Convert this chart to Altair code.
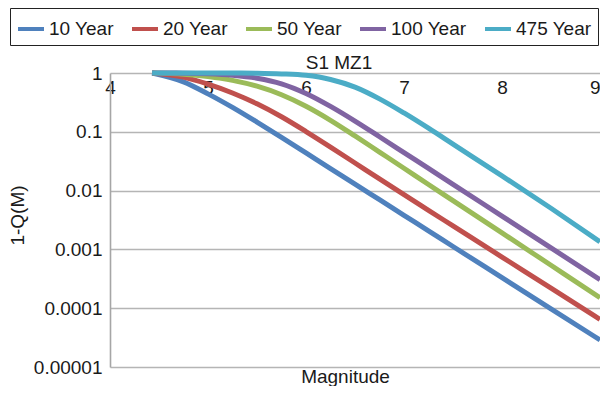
import altair as alt
import pandas as pd

magnitude = [4.43, 4.75, 5.0, 5.25, 5.5, 5.75, 6.0, 6.25, 6.5, 6.75, 7.0, 7.25, 7.5, 8.0, 8.5, 9.0]

series_names = ["10 Year", "20 Year", "50 Year", "100 Year", "475 Year"]
series_colors = ["#4F81BD", "#C0504D", "#9BBB59", "#8064A2", "#4BACC6"]

y_10 = [1.0, 0.708, 0.442, 0.260, 0.146, 0.0804, 0.0437, 0.0237, 0.0129, 0.0070, 0.0038, 0.00207, 0.00112, 0.000331, 0.0000977, 0.0000288]
y_20 = [1.0, 0.851, 0.646, 0.457, 0.299, 0.180, 0.101, 0.0550, 0.0295, 0.0158, 0.00851, 0.00462, 0.00251, 0.000741, 0.000219, 0.0000646]
y_50 = [1.0, 0.955, 0.871, 0.750, 0.596, 0.427, 0.272, 0.157, 0.0851, 0.0452, 0.0240, 0.0127, 0.00676, 0.00191, 0.000537, 0.000151]
y_100 = [1.0, 0.993, 0.968, 0.914, 0.815, 0.655, 0.448, 0.270, 0.152, 0.0824, 0.0443, 0.0238, 0.0128, 0.00368, 0.00106, 0.000306]
y_475 = [1.0, 1.0, 1.0, 0.999, 0.991, 0.966, 0.912, 0.776, 0.575, 0.363, 0.209, 0.115, 0.0617, 0.0178, 0.00501, 0.00135]

x_ticks = [4, 5, 6, 7, 8, 9]
y_ticks = [1, 0.1, 0.01, 0.001, 0.0001, 0.00001]

rows = []
for name, ys in zip(series_names, [y_10, y_20, y_50, y_100, y_475]):
    for m, v in zip(magnitude, ys):
        rows.append({"M": m, "P": v, "series": name})
df = pd.DataFrame(rows)

FONT = "Liberation Sans"
TEXT = "#1a1a1a"
PLOT_W, PLOT_H = 490, 294

chart = (
    alt.Chart(df)
    .mark_line(strokeWidth=5, interpolate="monotone")
    .encode(
        x=alt.X(
            "M:Q",
            scale=alt.Scale(domain=[4, 9], nice=False, zero=False),
            axis=alt.Axis(
                orient="top",
                values=x_ticks,
                format="d",
                grid=False,
                domain=False,
                ticks=False,
                labelFlush=False,
                labelAlign={"condition": {"test": "datum.value == 9", "value": "right"}, "value": "center"},
                labelBaseline="top",
                labelPadding=-5,
                labelFontSize=19,
                labelFont=FONT,
                labelColor=TEXT,
                title="Magnitude",
                titleFont=FONT,
                titleFontSize=19,
                titleFontWeight="normal",
                titleColor=TEXT,
                titleX=235,
                titleY=309,
                titleBaseline="alphabetic",
                titleAlign="center",
            ),
        ),
        y=alt.Y(
            "P:Q",
            scale=alt.Scale(type="log", domain=[0.00001, 1], nice=False),
            axis=alt.Axis(
                values=y_ticks,
                format=".5~f",
                grid=True,
                gridColor="#b5b5b5",
                gridWidth=1.6,
                domain=True,
                domainColor="#a6a6a6",
                domainWidth=1.6,
                ticks=False,
                labelPadding=8,
                labelFontSize=19,
                labelFont=FONT,
                labelColor=TEXT,
                title="1-Q(M)",
                titleFont=FONT,
                titleFontSize=19,
                titleFontWeight="normal",
                titleColor=TEXT,
                titleX=-93,
                titleY=142,
                titleBaseline="middle",
                titleAlign="center",
                titleAngle=270,
            ),
        ),
        color=alt.Color(
            "series:N",
            sort=series_names,
            scale=alt.Scale(domain=series_names, range=series_colors),
            legend=alt.Legend(
                title=None,
                orient="none",
                legendX=-100,
                legendY=-65,
                direction="horizontal",
                gridAlign="each",
                symbolType="stroke",
                symbolSize=676,
                symbolStrokeWidth=4,
                labelFont=FONT,
                labelFontSize=19,
                labelColor=TEXT,
                labelOffset=3,
                columnPadding=10,
                padding=6,
                strokeColor="#222222",
            ),
        ),
    )
    .properties(
        width=PLOT_W,
        height=PLOT_H,
        title=alt.Title(
            "S1 MZ1",
            font=FONT,
            fontSize=19,
            fontWeight="normal",
            color=TEXT,
            anchor="middle",
            baseline="alphabetic",
            dx=-16,
            dy=85,
            offset=5,
        ),
        autosize=alt.AutoSizeParams(type="none"),
        padding={"left": 102, "top": 65, "right": 0, "bottom": 19},
    )
    .configure_view(stroke=None)
)

chart.save("out.html", embed_options={"renderer": "svg", "actions": False})
